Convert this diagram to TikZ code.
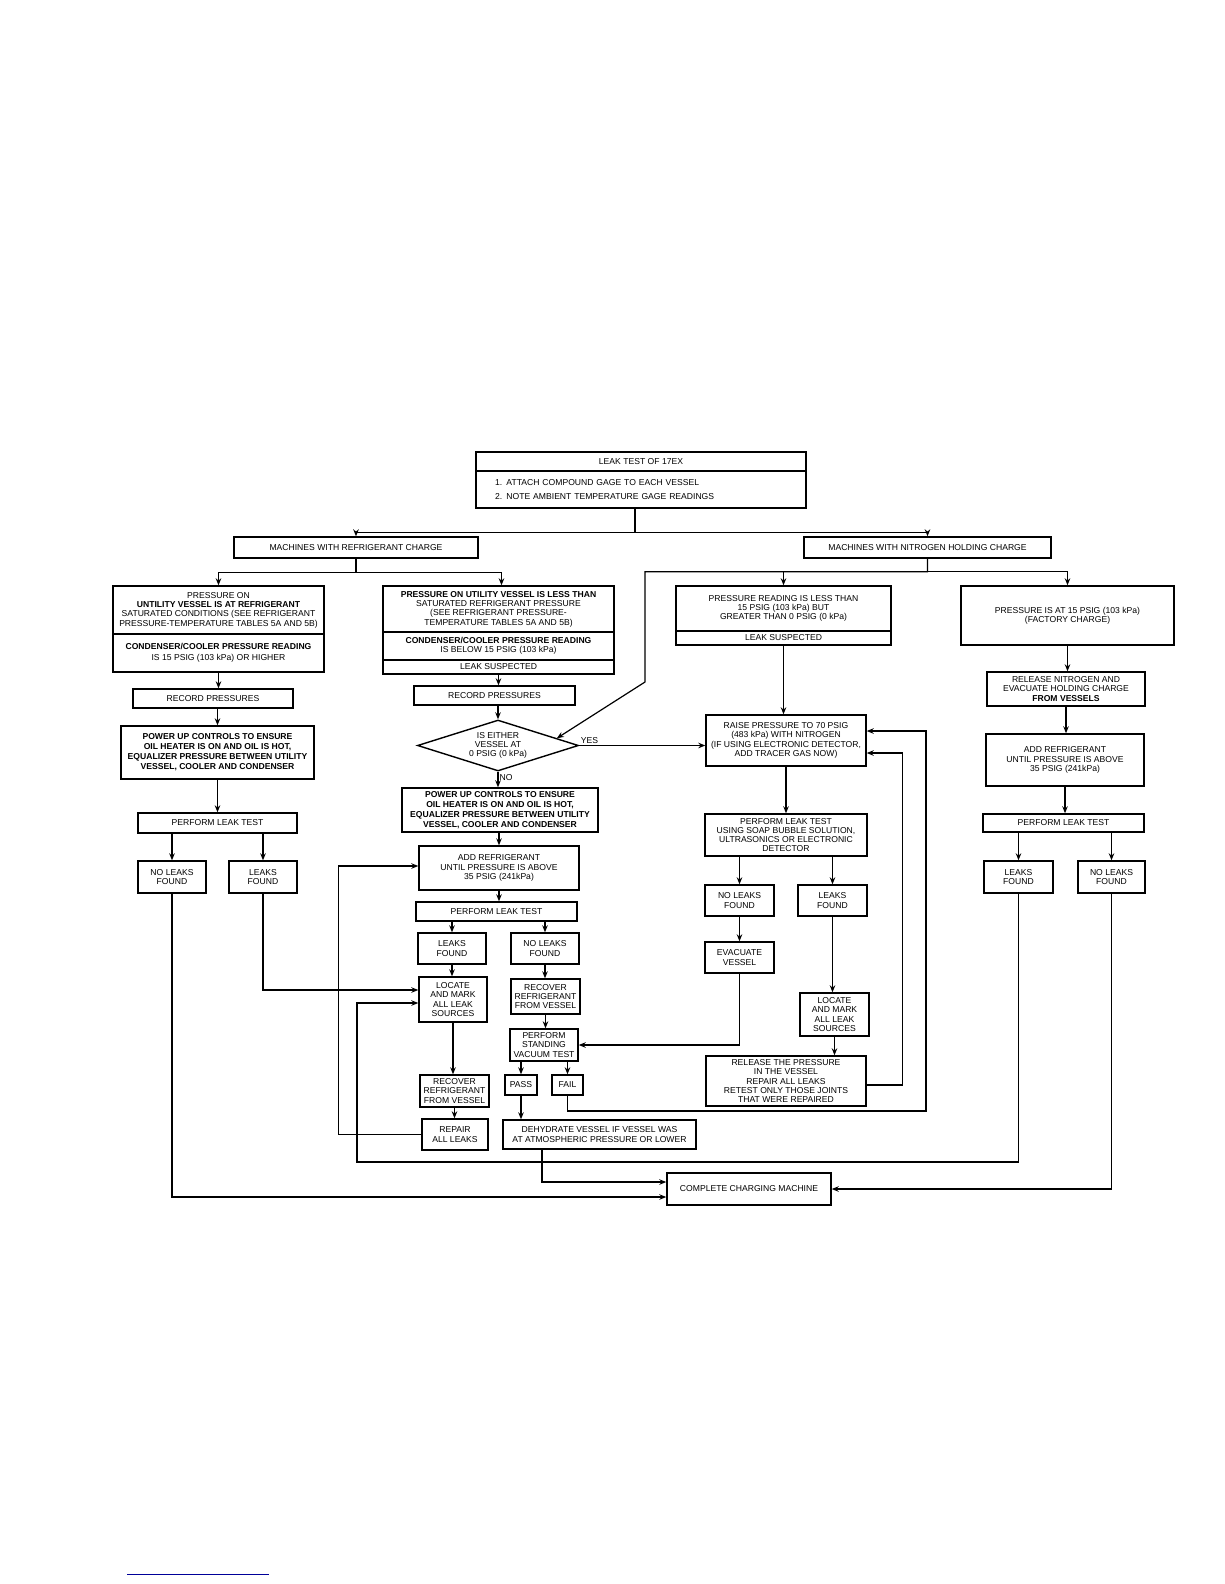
\documentclass[tikz,border=0pt]{standalone}
\usepackage{fontspec}
\setmainfont{Liberation Sans}
\usepackage{tikz}
\usetikzlibrary{positioning,arrows.meta,shapes.geometric,calc}

\begin{document}
\begin{tikzpicture}[x=1pt, y=-1pt,
  box/.style={draw, line width=1.4pt, inner sep=1pt, align=center,
    font=\fontsize{8.6}{9.3}\selectfont},
  sz/.style 2 args={minimum width=#1pt, minimum height=#2pt},
  dec/.style={box, diamond, aspect=3.2, inner sep=0pt},
  lbl/.style={inner sep=1pt, font=\fontsize{8.6}{9.3}\selectfont},
  line/.style={line width=1.2pt},
  >={Stealth[length=7pt,width=5.5pt]}]
\fill[white] (0,0) rectangle (1224,1584);
\useasboundingbox (0,0) rectangle (1224,1584);

% top of the chart
\node[box,sz={330}{19}] (tt) at (641,461.5) {LEAK TEST OF 17EX};
\node[box,sz={330}{37},align=left,text width=292pt,inner xsep=19pt] (tb) at (641,489.5)
  {1. ATTACH COMPOUND GAGE TO EACH VESSEL\\[4.7pt]2. NOTE AMBIENT TEMPERATURE GAGE READINGS};
\node[box,sz={244}{21}] (mref) at (356,547.5) {MACHINES WITH REFRIGERANT CHARGE};
\node[box,sz={247}{21}] (mnit) at (927.5,547.5) {MACHINES WITH NITROGEN HOLDING CHARGE};

% refrigerant charge, left branch
\node[box,sz={211}{48}] (a1) at (218.5,610) {PRESSURE ON\\\textbf{UNTILITY VESSEL IS AT REFRIGERANT}\\SATURATED CONDITIONS (SEE REFRIGERANT\\PRESSURE-TEMPERATURE TABLES 5A AND 5B)};
\node[box,sz={211}{38}] (a2) at (218.5,653) {\textbf{CONDENSER/COOLER PRESSURE READING}\\[1.7pt]IS 15 PSIG (103 kPa) OR HIGHER};
\node[box,sz={160}{19}] (rec1) at (213,698.5) {RECORD PRESSURES};
\node[box,sz={193}{53},font=\bfseries\fontsize{8.6}{10}\selectfont] (pw1) at (217.5,752.5) {POWER UP CONTROLS TO ENSURE\\OIL HEATER IS ON AND OIL IS HOT,\\EQUALIZER PRESSURE BETWEEN UTILITY\\VESSEL, COOLER AND CONDENSER};
\node[box,sz={159}{20}] (pl1) at (217.5,823) {PERFORM LEAK TEST};
\node[box,sz={68}{32}] (nl1) at (172,877) {NO LEAKS\\FOUND};
\node[box,sz={68}{32}] (lf1) at (263,877) {LEAKS\\FOUND};

% refrigerant charge, right branch
\node[box,sz={231}{46}] (b1) at (498.5,609) {\textbf{PRESSURE ON UTILITY VESSEL IS LESS THAN}\\SATURATED REFRIGERANT PRESSURE\\(SEE REFRIGERANT PRESSURE-\\TEMPERATURE TABLES 5A AND 5B)};
\node[box,sz={231}{28}] (b2) at (498.5,646) {\textbf{CONDENSER/COOLER PRESSURE READING}\\IS BELOW 15 PSIG (103 kPa)};
\node[box,sz={231}{14}] (b3) at (498.5,667) {LEAK SUSPECTED};
\node[box,sz={161}{19}] (rec2) at (494.5,695.5) {RECORD PRESSURES};
\node[dec,sz={161}{51}] (dia) at (498,745.5) {IS EITHER\\VESSEL AT\\0 PSIG (0 kPa)};
\node[box,sz={196}{44},font=\bfseries\fontsize{8.6}{10}\selectfont] (pw2) at (500,810) {POWER UP CONTROLS TO ENSURE\\OIL HEATER IS ON AND OIL IS HOT,\\EQUALIZER PRESSURE BETWEEN UTILITY\\VESSEL, COOLER AND CONDENSER};
\node[box,sz={160}{44}] (add2) at (499,868) {ADD REFRIGERANT\\UNTIL PRESSURE IS ABOVE\\35 PSIG (241kPa)};
\node[box,sz={161}{19}] (pl2) at (496.5,911.5) {PERFORM LEAK TEST};
\node[box,sz={68}{31}] (lf2) at (452,948.5) {LEAKS\\FOUND};
\node[box,sz={68}{31}] (nl2) at (545,948.5) {NO LEAKS\\FOUND};
\node[box,sz={68}{45}] (loc2) at (453,999.5) {LOCATE\\AND MARK\\ALL LEAK\\SOURCES};
\node[box,sz={69}{35}] (rcv2) at (545.5,996.5) {RECOVER\\REFRIGERANT\\FROM VESSEL};
\node[box,sz={68}{32}] (std) at (544,1045) {PERFORM\\STANDING\\VACUUM TEST};
\node[box,sz={69}{32}] (rcv1) at (454.5,1091) {RECOVER\\REFRIGERANT\\FROM VESSEL};
\node[box,sz={66}{31}] (rep) at (455,1134.5) {REPAIR\\ALL LEAKS};
\node[box,sz={32}{20}] (pass) at (521,1085) {PASS};
\node[box,sz={31}{20}] (fail) at (567.5,1085) {FAIL};
\node[box,sz={193}{29}] (dehy) at (599.5,1134.5) {DEHYDRATE VESSEL IF VESSEL WAS\\AT ATMOSPHERIC PRESSURE OR LOWER};
\node[box,sz={164}{32}] (cmp) at (749,1189) {COMPLETE CHARGING MACHINE};

% nitrogen holding charge
\node[box,sz={215}{45}] (c1) at (783.5,608.5) {PRESSURE READING IS LESS THAN\\15 PSIG (103 kPa) BUT\\GREATER THAN 0 PSIG (0 kPa)};
\node[box,sz={215}{14}] (c2) at (783.5,638) {LEAK SUSPECTED};
\node[box,sz={213}{59}] (d) at (1067.5,615.5) {PRESSURE IS AT 15 PSIG (103 kPa)\\(FACTORY CHARGE)};
\node[box,sz={158}{34}] (rn) at (1066,689) {RELEASE NITROGEN AND\\EVACUATE HOLDING CHARGE\\\textbf{FROM VESSELS}};
\node[box,sz={158}{52}] (ar) at (1065,760) {ADD REFRIGERANT\\UNTIL PRESSURE IS ABOVE\\35 PSIG (241kPa)};
\node[box,sz={161}{18}] (pl4) at (1063.5,823) {PERFORM LEAK TEST};
\node[box,sz={69}{32}] (lf4) at (1018.5,877) {LEAKS\\FOUND};
\node[box,sz={67}{32}] (nl4) at (1111.5,877) {NO LEAKS\\FOUND};
\node[box,sz={160}{51}] (raise) at (786,740.5) {RAISE PRESSURE TO 70 PSIG\\(483 kPa) WITH NITROGEN\\(IF USING ELECTRONIC DETECTOR,\\ADD TRACER GAS NOW)};
\node[box,sz={162}{42}] (pl3) at (786,835) {PERFORM LEAK TEST\\USING SOAP BUBBLE SOLUTION,\\ULTRASONICS OR ELECTRONIC\\DETECTOR};
\node[box,sz={69}{31}] (nl3) at (739.5,900.5) {NO LEAKS\\FOUND};
\node[box,sz={69}{31}] (lf3) at (832.5,900.5) {LEAKS\\FOUND};
\node[box,sz={69}{31}] (ev) at (739.5,957.5) {EVACUATE\\VESSEL};
\node[box,sz={69}{43}] (loc3) at (834.5,1014.5) {LOCATE\\AND MARK\\ALL LEAK\\SOURCES};
\node[box,sz={160}{50}] (rel) at (786,1081) {RELEASE THE PRESSURE\\IN THE VESSEL\\REPAIR ALL LEAKS\\RETEST ONLY THOSE JOINTS\\THAT WERE REPAIRED};

% connectors
\draw[line,->] ([xshift=-6pt]tb.south) -- ++(0,24) -| (mref.north);
\draw[line,->] ([xshift=-6pt]tb.south) -- ++(0,24) -| (mnit.north);
\draw[line,->] (mref.south) -- ++(0,14) -| (a1.north);
\draw[line,->] (mref.south) -- ++(0,14) -| ([xshift=3pt]b1.north);
\draw[line,->] (a2.south) -- (a2.south |- rec1.north);
\draw[line,->] (rec1.south -| pw1.north) -- (pw1.north);
\draw[line,->] (pw1) -- (pl1);
\draw[line,->] (pl1.south -| nl1) -- (nl1);
\draw[line,->] (pl1.south -| lf1) -- (lf1);
\draw[line,->] (lf1.south) |- ([yshift=9.5pt]loc2.west);
\draw[line,->] (nl1.south) |- ([yshift=-8pt]cmp.west);

\draw[line,->] (b3.south) -- (b3.south |- rec2.north);
\draw[line,->] (rec2.south -| dia.north) -- (dia.north);
\draw[line,->] (dia.south) -- node[lbl,right,pos=0.35]{NO} (dia.south |- pw2.north);
\draw[line,->] (dia.east) -- node[lbl,pos=0,anchor=south west]{YES} (dia.east -| raise.west);
\draw[line,->] (pw2.south -| add2.north) -- (add2.north);
\draw[line,->] (add2.south) -- (add2.south |- pl2.north);
\draw[line,->] (pl2.south -| lf2) -- (lf2);
\draw[line,->] (pl2.south -| nl2) -- (nl2);
\draw[line,->] (lf2.south) -- (lf2.south |- loc2.north);
\draw[line,->] (nl2.south) -- (nl2.south |- rcv2.north);
\draw[line,->] (rcv2.south) -- (rcv2.south |- std.north);
\draw[line,->] (std.south -| pass) -- (pass);
\draw[line,->] (std.south -| fail) -- (fail);
\draw[line,->] (loc2.south) -- (loc2.south |- rcv1.north);
\draw[line,->] (rcv1.south) -- (rcv1.south |- rep.north);
\draw[line,->] (pass.south) -- (pass.south |- dehy.north);
\draw[line,->] (rep.west) -- ++(-83,0) |- ([yshift=2pt]add2.west);
\draw[line,->] ([xshift=-57.5pt]dehy.south) |- ([yshift=7pt]cmp.west);
\draw[line,->] (fail.south) |- (926,1111) |- ([yshift=9.5pt]raise.east);

\draw[line,->] (mnit.south) -- ++(0,13) -| (c1.north);
\draw[line,->] (mnit.south) -- ++(0,13) -| (d.north);
\draw[line,->] (mnit.south) -- ++(0,13) -| (645,682) -- (dia.7);
\draw[line,->] (c2.south) -- (c2.south |- raise.north);
\draw[line,->] (raise) -- (pl3);
\draw[line,->] (pl3.south -| nl3) -- (nl3);
\draw[line,->] (pl3.south -| lf3) -- (lf3);
\draw[line,->] (nl3) -- (ev);
\draw[line,->] (ev.south) |- (std.east);
\draw[line,->] (lf3.south) -- (lf3.south |- loc3.north);
\draw[line,->] (loc3.south) -- (loc3.south |- rel.north);
\draw[line,->] ([yshift=-4pt]rel.east) -- ++(36,0) |- ([yshift=-12.5pt]raise.east);
\draw[line,->] (d.south) -- (d.south |- rn.north);
\draw[line,->] (rn.south) -- (rn.south |- ar.north);
\draw[line,->] (ar.south) -- (ar.south |- pl4.north);
\draw[line,->] (pl4.south -| lf4) -- (lf4);
\draw[line,->] (pl4.south -| nl4) -- (nl4);
\draw[line,->] (lf4.south) |- (357,1162) |- ([yshift=-3.5pt]loc2.west);
\draw[line,->] (nl4.south) |- (cmp.east);

\draw[blue!60!black, line width=1pt] (127,1574) -- (269,1574);
\end{tikzpicture}
\end{document}
